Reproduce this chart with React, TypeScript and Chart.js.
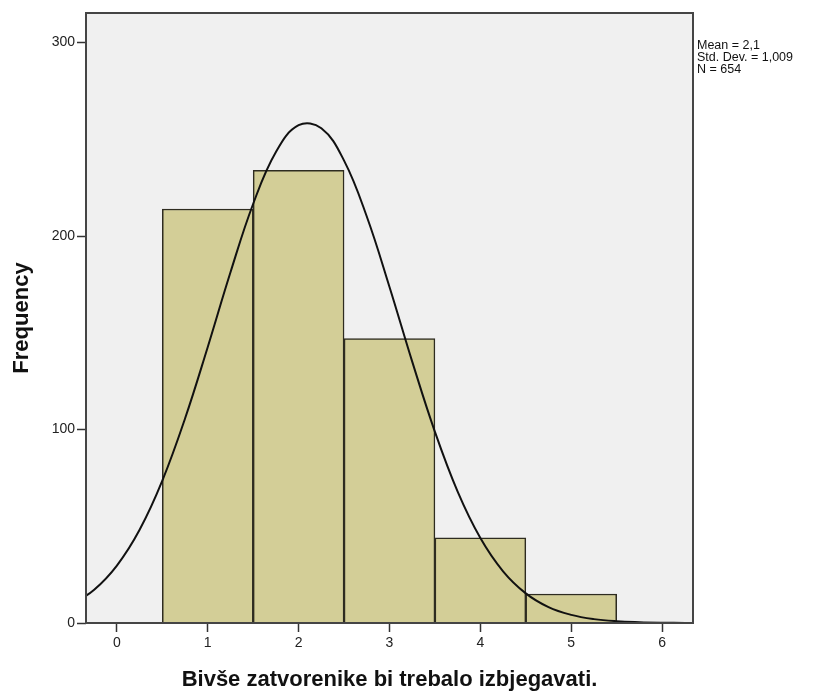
import React, { useEffect, useRef } from "react";
import { Chart, registerables } from "chart.js";

Chart.register(...registerables);

// Histogram bins (category centers) and frequencies
const BIN_CENTERS = [1, 2, 3, 4, 5];
const FREQUENCIES = [214, 234, 147, 44, 15];

// Normal curve overlay (Mean = 2,1; Std. Dev. = 1,009; N = 654)
const CURVE_X = [-0.5, -0.25, 0, 0.25, 0.5, 0.75, 1, 1.25, 1.5, 1.75, 2, 2.25, 2.5, 2.75, 3, 3.25, 3.5, 3.75, 4, 4.25, 4.5, 4.75, 5, 5.25, 5.5, 5.75, 6, 6.25, 6.5];
const CURVE_Y = [9.4, 17.2, 29.7, 48.2, 73.6, 105.7, 142.7, 181.3, 216.7, 243.5, 257.3, 255.7, 239.0, 210.1, 173.7, 135.1, 98.8, 67.9, 43.9, 26.7, 15.3, 8.2, 4.2, 2.0, 0.9, 0.4, 0.15, 0.05, 0.02];

const X_TICKS = [0, 1, 2, 3, 4, 5, 6];
const Y_TICKS = [0, 100, 200, 300];
const X_MIN = -0.34;
const X_MAX = 6.34;
const Y_MAX = 315.3;

const STATS = ["Mean = 2,1", "Std. Dev. = 1,009", "N = 654"];
const X_TITLE = "Bivše zatvorenike bi trebalo izbjegavati.";
const Y_TITLE = "Frequency";

const FONT = "'Liberation Sans', Arial, sans-serif";

const plotFrame = {
  id: "plotFrame",
  beforeDatasetsDraw(chart: any) {
    const { ctx, chartArea: a } = chart;
    ctx.save();
    ctx.fillStyle = "#F0F0F0";
    ctx.fillRect(a.left, a.top, a.right - a.left, a.bottom - a.top);
    ctx.restore();
  },
  afterDatasetsDraw(chart: any) {
    const { ctx, chartArea: a } = chart;
    ctx.save();
    ctx.strokeStyle = "#454545";
    ctx.lineWidth = 2;
    ctx.strokeRect(a.left, a.top, a.right - a.left, a.bottom - a.top);
    ctx.restore();
  },
};

export default function App() {
  const ref = useRef<HTMLCanvasElement>(null);

  useEffect(() => {
    document.body.style.margin = "0";
    const ctx = ref.current!.getContext("2d")!;
    const chart = new Chart(ctx, {
      type: "bar",
      data: {
        datasets: [
          {
            type: "line",
            data: CURVE_X.map((x, i) => ({ x, y: CURVE_Y[i] })),
            borderColor: "#111",
            borderWidth: 2,
            pointRadius: 0,
            tension: 0.4,
            fill: false,
            order: 0,
          } as any,
          {
            type: "bar",
            data: BIN_CENTERS.map((x, i) => ({ x, y: FREQUENCIES[i] })),
            backgroundColor: "#D3CE97",
            borderColor: "#2e2c20",
            borderWidth: 1.5,
            barPercentage: 1,
            categoryPercentage: 1,
            order: 1,
          } as any,
        ],
      },
      options: {
        animation: false,
        responsive: false,
        maintainAspectRatio: false,
        layout: { padding: { left: 0, right: 140, top: 13, bottom: 0 } },
        plugins: { legend: { display: false }, tooltip: { enabled: false } },
        scales: {
          x: {
            type: "linear",
            min: X_MIN,
            max: X_MAX,
            offset: false,
            afterBuildTicks: (s: any) => {
              s.ticks = X_TICKS.map((v) => ({ value: v }));
            },
            afterFit: (s: any) => {
              s.height = 71;
            },
            ticks: {
              font: { family: FONT, size: 14 },
              color: "#222",
              padding: 3,
              maxRotation: 0,
              callback: (v: any) => String(v),
            },
            grid: {
              display: true,
              offset: false,
              drawOnChartArea: false,
              drawTicks: true,
              tickLength: 9,
              tickColor: "#333",
              tickWidth: 1.5,
            },
            border: { display: false },
            title: {
              display: true,
              text: X_TITLE,
              font: { family: FONT, size: 22, weight: "bold" },
              color: "#111",
              padding: { top: 0, bottom: 1 },
            },
          },
          y: {
            type: "linear",
            min: 0,
            max: Y_MAX,
            afterBuildTicks: (s: any) => {
              s.ticks = Y_TICKS.map((v) => ({ value: v }));
            },
            afterFit: (s: any) => {
              s.width = 86;
            },
            ticks: {
              font: { family: FONT, size: 14 },
              color: "#222",
              padding: 2,
              callback: (v: any) => String(v),
            },
            grid: {
              display: true,
              offset: false,
              drawOnChartArea: false,
              drawTicks: true,
              tickLength: 9,
              tickColor: "#333",
              tickWidth: 1.5,
            },
            border: { display: false },
            title: {
              display: true,
              text: Y_TITLE,
              font: { family: FONT, size: 22, weight: "bold" },
              color: "#111",
              padding: { top: 9, bottom: 0 },
            },
          },
        },
      },
      plugins: [plotFrame],
    });
    return () => chart.destroy();
  }, []);

  return (
    <div style={{ position: "relative", width: 833, height: 694 }}>
      <canvas ref={ref} width={833} height={694} style={{ display: "block" }} />
      <div
        style={{
          position: "absolute",
          left: 697,
          top: 39,
          fontFamily: FONT,
          fontSize: 12.5,
          lineHeight: "12px",
          color: "#111",
          whiteSpace: "pre",
        }}
      >
        {STATS.map((s) => (
          <div key={s}>{s}</div>
        ))}
      </div>
    </div>
  );
}
